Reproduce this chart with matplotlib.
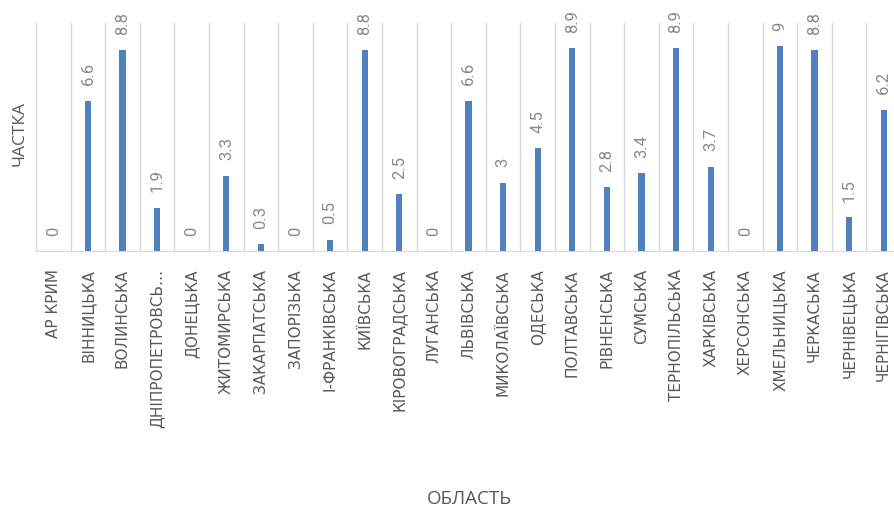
"""Частка по областях — стовпчикова діаграма."""

import matplotlib
matplotlib.use("Agg")
import matplotlib.pyplot as plt
import numpy as np

regions = [
    "АР КРИМ", "ВІННИЦЬКА", "ВОЛИНСЬКА", "ДНІПРОПЕТРОВСЬ…", "ДОНЕЦЬКА",
    "ЖИТОМИРСЬКА", "ЗАКАРПАТСЬКА", "ЗАПОРІЗЬКА", "І-ФРАНКІВСЬКА", "КИЇВСЬКА",
    "КІРОВОГРАДСЬКА", "ЛУГАНСЬКА", "ЛЬВІВСЬКА", "МИКОЛАЇВСЬКА", "ОДЕСЬКА",
    "ПОЛТАВСЬКА", "РІВНЕНСЬКА", "СУМСЬКА", "ТЕРНОПІЛЬСЬКА", "ХАРКІВСЬКА",
    "ХЕРСОНСЬКА", "ХМЕЛЬНИЦЬКА", "ЧЕРКАСЬКА", "ЧЕРНІВЕЦЬКА", "ЧЕРНІГІВСЬКА",
]
shares = [0, 6.6, 8.8, 1.9, 0, 3.3, 0.3, 0, 0.5, 8.8, 2.5, 0, 6.6, 3, 4.5,
          8.9, 2.8, 3.4, 8.9, 3.7, 0, 9, 8.8, 1.5, 6.2]

plt.rcParams["font.family"] = ["Open Sans", "DejaVu Sans"]

TEXT = "#595959"
LABEL = "#8a8a8a"
GRID = "#d9d9d9"
BAR = "#4f81bd"

W, H = 894, 509
fig = plt.figure(figsize=(W / 100, H / 100), dpi=100)
# область побудови трохи виходить за правий край, як в оригіналі
ax = fig.add_axes([36 / W, (H - 251) / H, 865 / W, 228 / H])

x = np.arange(len(regions))
bars = ax.bar(x, shares, width=0.18, color=BAR, zorder=3)

ax.set_xlim(-0.5, len(regions) - 0.5)
ax.set_ylim(0, 10)

# вертикальна сітка між категоріями
ax.set_xticks(np.arange(len(regions) + 1) - 0.5, minor=True)
ax.grid(which="minor", axis="x", color=GRID, linewidth=1, zorder=0)
ax.tick_params(which="both", length=0)

ax.set_xticks(x)
ax.set_xticklabels(regions, rotation=90, va="top", ha="center",
                   fontsize=11, color=TEXT, family=["DejaVu Sans"])
ax.tick_params(axis="x", pad=13)
ax.set_yticks([])

for side in ["top", "right", "left"]:
    ax.spines[side].set_visible(False)
ax.spines["bottom"].set_color(GRID)

# підписи значень
for bar, v in zip(bars, shares):
    ax.annotate(f"{v:g}", (bar.get_x() + bar.get_width() / 2, v),
                xytext=(0, 11), textcoords="offset points",
                rotation=90, ha="center", va="bottom",
                fontsize=12, color=LABEL, family=["Roboto", "DejaVu Sans"])

fig.text(20 / W, 1 - 134 / H, "ЧАСТКА", rotation=90, ha="center", va="center",
         fontsize=12.5, color=TEXT)
fig.text(469 / W, 1 - 499 / H, "ОБЛАСТЬ", ha="center", va="center",
         fontsize=13.5, color=TEXT)

fig.savefig("out.png", dpi=100)
